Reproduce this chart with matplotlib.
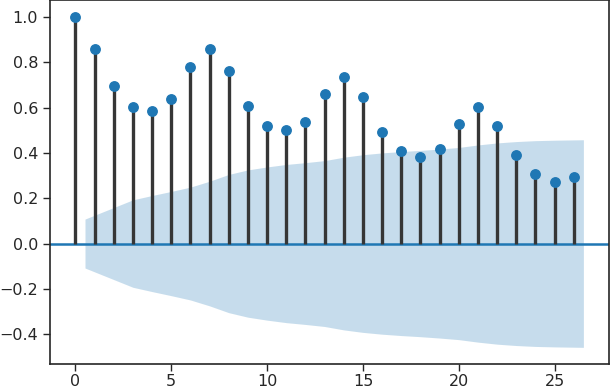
import numpy as np
import matplotlib
matplotlib.use('Agg')
import matplotlib.pyplot as plt

# Значення автокореляції для лагів 0..26
lags = list(range(27))
acf_values = [1.0, 0.859, 0.697, 0.601, 0.586, 0.639, 0.778, 0.859, 0.763, 0.608,
              0.520, 0.499, 0.536, 0.660, 0.735, 0.647, 0.492, 0.410, 0.380, 0.417,
              0.528, 0.601, 0.520, 0.389, 0.308, 0.271, 0.294]

# Півширина довірчого інтервалу для лагів 1..26
conf_half = [0.108, 0.159, 0.193, 0.212, 0.230, 0.249, 0.275, 0.305, 0.325, 0.338,
             0.349, 0.357, 0.366, 0.381, 0.392, 0.400, 0.406, 0.411, 0.417, 0.424,
             0.435, 0.444, 0.450, 0.454, 0.456, 0.458]

plt.rcParams['font.family'] = ['DejaVu Sans']
plt.rcParams['font.size'] = 11.5

fig = plt.figure(figsize=(6.1, 3.9), dpi=100)
ax = fig.add_axes([0.082, 0.067, 0.916, 0.932])

# Стовпчики і точки
ax.vlines(lags, 0, acf_values, colors='#363636', linewidth=2.4, zorder=2)
ax.plot(lags, acf_values, marker='o', markersize=6.8, linestyle='None',
        color='#1f77b4', zorder=3)
ax.axhline(0, color='#1f77b4', linewidth=1.8, zorder=1)

# Довірча смуга (як у statsmodels: краї зсунуті на пів лага)
band_x = np.array(lags[1:], dtype=float)
band_x[0] -= 0.5
band_x[-1] += 0.5
half = np.array(conf_half)
ax.fill_between(band_x, -half, half, color='#1f77b4', alpha=0.25,
                linewidth=0, zorder=0)

ax.set_xticks([0, 5, 10, 15, 20, 25])
ax.set_yticks([-0.4, -0.2, 0.0, 0.2, 0.4, 0.6, 0.8, 1.0])
ax.tick_params(direction='out', length=5, width=1, colors='#262626',
               labelcolor='#262626')
ax.tick_params(axis='x', pad=2.5)
for s in ax.spines.values():
    s.set_color('#262626')
    s.set_linewidth(1.2)

fig.savefig('out.png', dpi=100)
